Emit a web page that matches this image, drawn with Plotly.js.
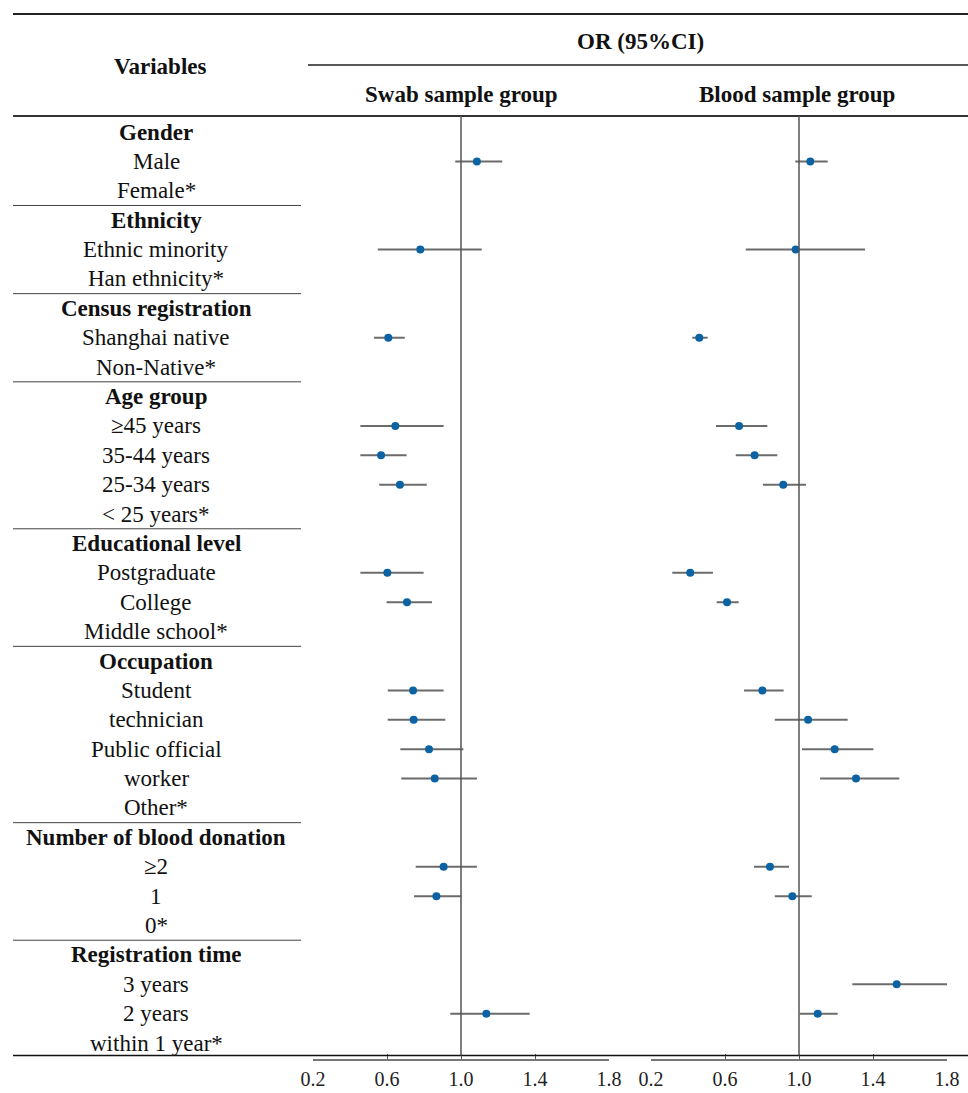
<!DOCTYPE html>
<html>
<head>
<meta charset="utf-8">
<script src="https://cdn.plot.ly/plotly-3.0.1.min.js"></script>
<style>html,body{margin:0;padding:0;background:#fff;}#chart{width:968px;height:1093px;}</style>
</head>
<body>
<div id="chart"></div>
<script>
// ---- data ----
var rowLabels = ["Gender","Male","Female*","Ethnicity","Ethnic minority","Han ethnicity*",
  "Census registration","Shanghai native","Non-Native*","Age group","\u226545 years","35-44 years",
  "25-34 years","< 25 years*","Educational level","Postgraduate","College","Middle school*",
  "Occupation","Student","technician","Public official","worker","Other*",
  "Number of blood donation","\u22652","1","0*","Registration time","3 years","2 years","within 1 year*"];
var headerRows = [0,3,6,9,14,18,24,28];
var groupEnds = [2,5,8,13,17,23,27];

var swabOR = [null,1.086,null,null,0.780,null,null,0.607,null,null,0.645,0.568,0.670,null,null,0.602,0.708,null,null,0.741,0.744,0.827,0.858,null,null,0.906,0.867,null,null,null,1.137,null];
var swabLo = [null,0.969,null,null,0.550,null,null,0.530,null,null,0.456,0.456,0.558,null,null,0.456,0.598,null,null,0.604,0.604,0.672,0.677,null,null,0.755,0.746,null,null,null,0.942,null];
var swabHi = [null,1.223,null,null,1.112,null,null,0.696,null,null,0.906,0.706,0.815,null,null,0.798,0.843,null,null,0.906,0.915,1.013,1.086,null,null,1.086,1.002,null,null,null,1.371,null];

var bloodOR = [null,1.061,null,null,0.982,null,null,0.461,null,null,0.676,0.760,0.915,null,null,0.412,0.611,null,null,0.802,1.049,1.193,1.308,null,null,0.843,0.964,null,null,1.528,1.101,null];
var bloodLo = [null,0.980,null,null,0.712,null,null,0.423,null,null,0.551,0.658,0.805,null,null,0.315,0.555,null,null,0.703,0.869,1.016,1.114,null,null,0.757,0.869,null,null,1.288,1.004,null];
var bloodHi = [null,1.155,null,null,1.357,null,null,0.506,null,null,0.829,0.883,1.038,null,null,0.535,0.674,null,null,0.917,1.263,1.402,1.542,null,null,0.946,1.069,null,null,1.805,1.209,null];

var tickVals = [0.2,0.6,1.0,1.4,1.8];
var tickText = ["0.2","0.6","1.0","1.4","1.8"];

// ---- layout helpers ----
var W = 968, H = 1093;
function px(x){return x/W;}
function py(y){return 1 - y/H;}
var FONT = "Liberation Serif, Times New Roman, serif";

function makeTrace(or, lo, hi, xa){
  var x=[], y=[], ep=[], em=[];
  for (var i=0;i<or.length;i++){
    if (or[i]===null) continue;
    x.push(or[i]); y.push(i); ep.push(hi[i]-or[i]); em.push(or[i]-lo[i]);
  }
  return {type:'scatter', mode:'markers', x:x, y:y, xaxis:xa, yaxis:'y',
    marker:{color:'#0b63a3', size:8, line:{width:0}},
    error_x:{type:'data', symmetric:false, array:ep, arrayminus:em, color:'#6b6b6b', thickness:2, width:0},
    hoverinfo:'x', showlegend:false, cliponaxis:false};
}

var traces = [makeTrace(swabOR, swabLo, swabHi, 'x'), makeTrace(bloodOR, bloodLo, bloodHi, 'x2')];

var rowTop = 116, rowBot = 1056, row0 = 132, pitch = 29.39;
var yMin = (rowTop-row0)/pitch, yMax = (rowBot-row0)/pitch;

var shapes = [];
// horizontal rules
shapes.push({type:'line', xref:'paper', yref:'paper', x0:px(13), x1:1, y0:py(14), y1:py(14), line:{color:'#222', width:2}});
shapes.push({type:'line', xref:'paper', yref:'paper', x0:px(308), x1:1, y0:py(65), y1:py(65), line:{color:'#222', width:1.5}});
shapes.push({type:'line', xref:'paper', yref:'paper', x0:px(13), x1:1, y0:py(116), y1:py(116), line:{color:'#333', width:2}});
shapes.push({type:'line', xref:'paper', yref:'paper', x0:px(13), x1:1, y0:py(1055.5), y1:py(1055.5), line:{color:'#111', width:1.5}});
groupEnds.forEach(function(g){
  shapes.push({type:'line', xref:'paper', yref:'y', x0:px(13), x1:px(301), y0:g+0.5, y1:g+0.5, line:{color:'#444', width:1}});
});
// reference lines at OR = 1
['x','x2'].forEach(function(xa){
  shapes.push({type:'line', xref:xa, yref:'paper', x0:1, x1:1, y0:py(1055.5), y1:py(116), line:{color:'#555', width:1.5}});
});

var annotations = [];
rowLabels.forEach(function(t,i){
  var bold = headerRows.indexOf(i)>=0;
  annotations.push({xref:'paper', yref:'y', x:px(156), y:i, text: bold?('<b>'+t+'</b>'):t,
    showarrow:false, xanchor:'center', yanchor:'middle', font:{family:FONT, size:23, color:'#111'}});
});
function hdr(text,x,y){
  annotations.push({xref:'paper', yref:'paper', x:px(x), y:py(y), text:'<b>'+text+'</b>', showarrow:false,
    xanchor:'center', yanchor:'middle', font:{family:FONT, size:23, color:'#111'}});
}
hdr('Variables',160,67);
hdr('OR (95%CI)',640,41);
hdr('Swab sample group',461,94);
hdr('Blood sample group',797,94);

function xaxis(d0,d1){
  return {domain:[px(d0),px(d1)], range:[0.2,1.8], anchor:'y', tickmode:'array', tickvals:tickVals, ticktext:tickText,
    showgrid:false, zeroline:false, showline:true, linecolor:'#777', linewidth:2, mirror:false,
    ticks:'inside', ticklen:5, tickcolor:'#555', tickwidth:1, ticklabelstandoff:1,
    tickfont:{family:FONT, size:20, color:'#222'}, fixedrange:true};
}

var layout = {
  width:W, height:H, margin:{l:0,r:0,t:0,b:0}, paper_bgcolor:'#fff', plot_bgcolor:'rgba(0,0,0,0)',
  showlegend:false,
  xaxis: xaxis(313,609),
  xaxis2: xaxis(651,947),
  yaxis: {domain:[py(1058.5), py(rowTop)], range:[yMax + (1058.5-1056)/pitch, yMin], visible:false, fixedrange:true},
  shapes: shapes,
  annotations: annotations
};

Plotly.newPlot('chart', traces, layout, {displayModeBar:false, staticPlot:true});
</script>
</body>
</html>
